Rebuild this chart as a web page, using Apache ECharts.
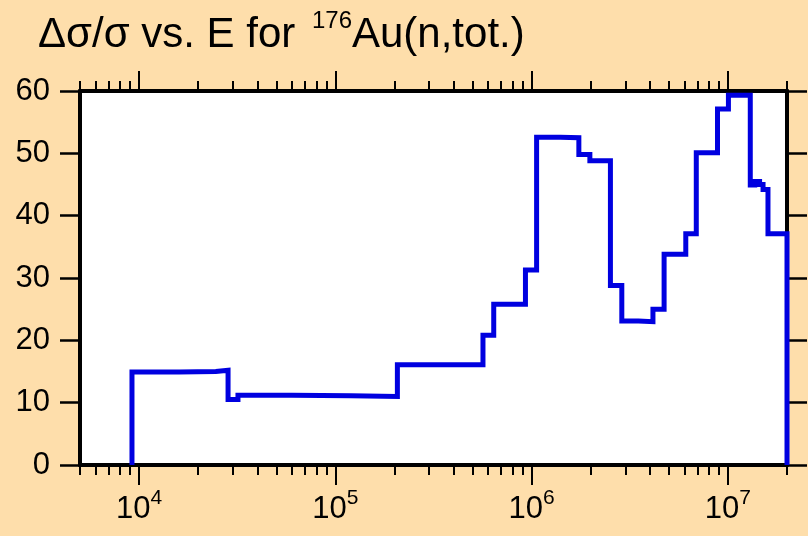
<!DOCTYPE html>
<html>
<head>
<meta charset="utf-8">
<script src="https://cdn.jsdelivr.net/npm/echarts@6/dist/echarts.min.js"></script>
<style>
html,body{margin:0;padding:0;background:#fedeab;}
#c{width:808px;height:536px;}
</style>
</head>
<body>
<div id="c"></div>
<script>
// Bin lower edges (eV) and the last upper edge
const binEdges = [9200, 16000, 24600, 28400, 31900, 60000, 120000, 207000, 565000, 641000, 930000,
  1060000, 1400000, 1740000, 1980000, 2520000, 2880000, 3500000, 4150000, 4730000, 6100000, 6900000,
  8850000, 10060000, 13000000, 13700000, 14500000, 15100000, 16000000, 20000000];
// Relative uncertainty (%) in each bin
const binValues = [14.9, 15.0, 15.2, 10.5, 11.2, 11.1, 11.0, 16.1, 20.8, 25.8, 31.3,
  52.6, 52.5, 49.8, 48.8, 28.8, 23.1, 23.0, 25.0, 33.8, 37.1, 50.1,
  57.1, 59.3, 44.9, 45.5, 45.0, 44.2, 37.1];
const majorTicks = [1e4, 1e5, 1e6, 1e7];
const yTicks = [0, 10, 20, 30, 40, 50, 60];
const xMin = 5000, xMax = 2e7;
const titleMain = 'Δσ/σ vs. E for ';
const titleSup = '176';
const titleEnd = 'Au(n,tot.)';

// minor tick positions (k * 10^n) inside the axis range
const minorTicks = [];
for (let n = 3; n <= 7; n++) {
  for (let k = 2; k <= 9; k++) {
    const v = k * Math.pow(10, n);
    if (v >= xMin - 1e-6 && v <= xMax + 1e-6) minorTicks.push(v);
  }
}

// step-line points
const pts = [[binEdges[0], 0]];
for (let i = 0; i < binValues.length; i++) pts.push([binEdges[i], binValues[i]]);
pts.push([binEdges[binEdges.length - 1], binValues[binValues.length - 1]]);
pts.push([binEdges[binEdges.length - 1], 0]);

const FONT = '"Liberation Sans", Arial, sans-serif';

function xAxisDef(pos, tickVals, len, labels) {
  return {
    type: 'log', logBase: 10, min: xMin, max: xMax, position: pos,
    axisLine: {show: true, onZero: false, lineStyle: {color: '#000', width: 4}},
    axisTick: {show: true, inside: false, length: len, customValues: tickVals,
      lineStyle: {color: '#000', width: 2}},
    axisLabel: labels ? {
      show: true, customValues: majorTicks, margin: 23,
      formatter: function (v) { return '{b|10}{s|' + Math.round(Math.log10(v)) + '}'; },
      rich: {
        b: {fontSize: 31, fontFamily: FONT, fontWeight: 'normal', color: '#000', lineHeight: 43, verticalAlign: 'middle'},
        s: {fontSize: 21, fontFamily: FONT, fontWeight: 'normal', color: '#000', lineHeight: 21, verticalAlign: 'top'}
      }
    } : {show: false},
    splitLine: {show: false},
    minorTick: {show: false}, minorSplitLine: {show: false}
  };
}
function yAxisDef(pos, labels) {
  return {
    type: 'value', min: 0, max: 60, interval: 10, position: pos,
    axisLine: {show: true, onZero: false, lineStyle: {color: '#000', width: 4}},
    axisTick: {show: true, inside: false, length: 20, lineStyle: {color: '#000', width: 2.5}},
    axisLabel: labels ? {show: true, margin: 30, fontSize: 31, fontFamily: FONT, color: '#000', padding: [6, 0, 0, 0]} : {show: false},
    splitLine: {show: false}
  };
}

const chart = echarts.init(document.getElementById('c'), null, {renderer: 'canvas'});
chart.setOption({
  backgroundColor: '#fedeab',
  animation: false,
  graphic: [{
    type: 'text', left: 38, top: 9, z: 10,
    style: {
      text: '{a|' + titleMain + '}{s|' + titleSup + '}{a|' + titleEnd + '}',
      fill: '#000',
      rich: {
        a: {fontSize: 42, fontFamily: FONT, fontWeight: 'normal', fill: '#000', lineHeight: 52, verticalAlign: 'middle'},
        s: {fontSize: 24, fontFamily: FONT, fontWeight: 'normal', fill: '#000', lineHeight: 24, verticalAlign: 'top', padding: [0, 0, 0, 5]}
      }
    }
  }],
  grid: {left: 80, right: 21, top: 91, bottom: 71, show: true, backgroundColor: '#ffffff', borderWidth: 0, containLabel: false},
  xAxis: [
    xAxisDef('bottom', majorTicks, 20, true),
    xAxisDef('bottom', minorTicks, 10, false),
    xAxisDef('top', majorTicks, 20, false),
    xAxisDef('top', minorTicks, 10, false)
  ],
  yAxis: [yAxisDef('left', true), yAxisDef('right', false)],
  series: [{
    type: 'line', step: 'end', xAxisIndex: 0, yAxisIndex: 0,
    data: pts, showSymbol: false, symbol: 'none',
    lineStyle: {color: '#0000e0', width: 5, join: 'miter'}, z: 5
  }]
});
</script>
</body>
</html>
